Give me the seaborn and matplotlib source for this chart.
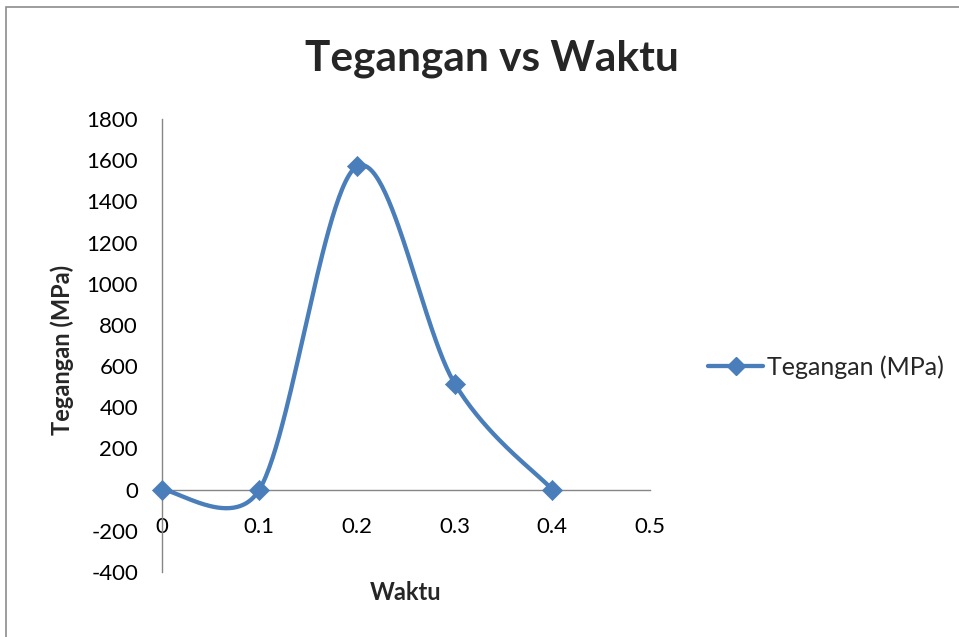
import numpy as np
import pandas as pd
import matplotlib
matplotlib.use("Agg")
import matplotlib.pyplot as plt
from matplotlib.lines import Line2D
from matplotlib.patches import Rectangle
import seaborn as sns

# Data
waktu = [0.0, 0.1, 0.2, 0.3, 0.4]
tegangan = [0, 0, 1570, 515, 0]
x_ticks = [0, 0.1, 0.2, 0.3, 0.4, 0.5]
x_tick_labels = ["0", "0.1", "0.2", "0.3", "0.4", "0.5"]
y_ticks = [-400, -200, 0, 200, 400, 600, 800, 1000, 1200, 1400, 1600, 1800]

series_name = "Tegangan (MPa)"
title = "Tegangan vs Waktu"
x_label = "Waktu"
y_label = "Tegangan (MPa)"

BLUE = "#4A7EBB"
AXIS_GRAY = "#868686"

sns.set_theme(style="white")
plt.rcParams["font.family"] = ["Lato", "DejaVu Sans"]
plt.rcParams["axes.unicode_minus"] = False

W, H = 959, 637
fig = plt.figure(figsize=(W / 100, H / 100), dpi=100)
fig.patch.set_facecolor("white")

# plot area in pixel coordinates
left_px, right_px, top_px, bottom_px = 161.7, 650.0, 119.0, 572.0
ax = fig.add_axes([left_px / W, (H - bottom_px) / H,
                   (right_px - left_px) / W, (bottom_px - top_px) / H])
ax.set_xlim(0, 0.5)
ax.set_ylim(-400, 1800)
ax.set_facecolor("white")


def smooth_curve(xs, ys, transform, n=60):
    """Spreadsheet-style smoothed line: cubic Bezier segments built in
    screen space with tangent length limited by the segment length."""
    pts = transform.transform(np.column_stack([xs, ys]))
    m = len(pts)
    out = []
    for i in range(m - 1):
        p0 = pts[i - 1] if i > 0 else pts[i]
        p1 = pts[i]
        p2 = pts[i + 1]
        p3 = pts[i + 2] if i + 2 < m else pts[i + 1]
        d12 = np.linalg.norm(p2 - p1)
        d02 = np.linalg.norm(p2 - p0)
        d13 = np.linalg.norm(p3 - p1)
        f = 1.0 / 6.0
        f0 = f if d02 / 6 < d12 / 2 else d12 / d02 / 2
        f1 = f if d13 / 6 < d12 / 2 else d12 / d13 / 2
        c1 = p1 + f0 * (p2 - p0)
        c2 = p2 - f1 * (p3 - p1)
        t = np.linspace(0, 1, n)[:, None]
        seg = ((1 - t) ** 3) * p1 + 3 * ((1 - t) ** 2) * t * c1 \
            + 3 * (1 - t) * t ** 2 * c2 + t ** 3 * p2
        if i > 0:
            seg = seg[1:]
        out.append(seg)
    disp = np.vstack(out)
    data = transform.inverted().transform(disp)
    return data[:, 0], data[:, 1]


cx, cy = smooth_curve(waktu, tegangan, ax.transData)
curve = pd.DataFrame({"Waktu": cx, "Tegangan": cy})
sns.lineplot(data=curve, x="Waktu", y="Tegangan", sort=False, estimator=None,
             color=BLUE, linewidth=3.1, ax=ax, zorder=3, legend=False)

points = pd.DataFrame({"Waktu": waktu, "Tegangan": tegangan})
sns.scatterplot(data=points, x="Waktu", y="Tegangan", marker="D", s=105,
                color=BLUE, edgecolor=BLUE, linewidth=0.5, ax=ax, zorder=4,
                legend=False, clip_on=False)

# axes crossing at zero
for side in ("top", "right"):
    ax.spines[side].set_visible(False)
ax.spines["bottom"].set_position(("data", 0))
ax.spines["left"].set_position(("data", 0))
for side in ("bottom", "left"):
    ax.spines[side].set_color(AXIS_GRAY)
    ax.spines[side].set_linewidth(1.0)

ax.set_xticks(x_ticks)
ax.set_xticklabels(x_tick_labels)
ax.set_yticks(y_ticks)
ax.tick_params(axis="both", length=0, labelsize=16, colors="black")
ax.tick_params(axis="x", pad=20)
ax.tick_params(axis="y", pad=17)
ax.grid(False)

ax.set_xlabel("")
ax.set_ylabel("")
fig.text(62 / W, 1 - 350 / H, y_label, fontsize=17, fontweight="bold",
         rotation=90, ha="center", va="center")
fig.text(406 / W, 1 - 593 / H, x_label, fontsize=17, fontweight="bold",
         ha="center", va="center")
fig.text(492 / W, 1 - 59 / H, title, fontsize=30.5, fontweight="bold",
         ha="center", va="center")

handle = Line2D([], [], color=BLUE, linewidth=3.1, marker="D",
                markersize=9.5, markeredgecolor=BLUE)
fig.legend([handle], [series_name], loc="center left",
           bbox_to_anchor=(708 / W, 1 - 367 / H), frameon=False,
           fontsize=18, handlelength=2.2, handletextpad=0.15,
           borderaxespad=0, borderpad=0)

# outer chart frame
fig.patches.append(Rectangle((5.5 / W, -0.1), 1.2, 1 - 6.5 / H + 0.1,
                             transform=fig.transFigure, fill=False,
                             edgecolor="#8C8C8C", linewidth=1.2))

fig.savefig("out.png", dpi=100)
